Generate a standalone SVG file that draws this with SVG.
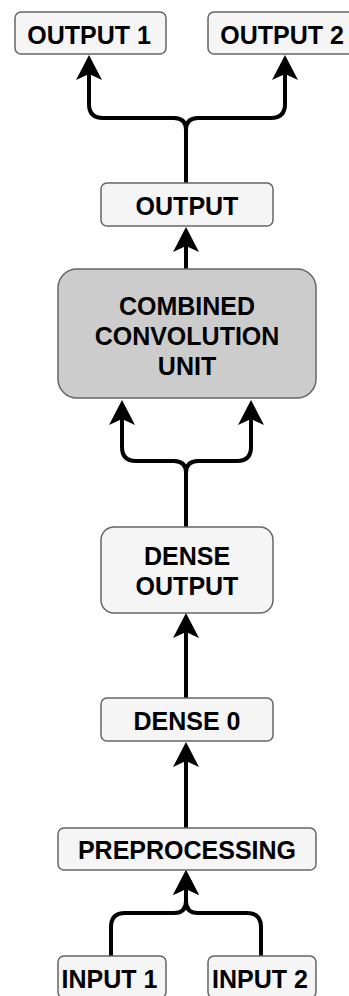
<svg xmlns="http://www.w3.org/2000/svg" width="349" height="996" viewBox="0 0 349 996">
<style>
.box{fill:#f5f5f5;stroke:#666666;stroke-width:1.5}
.dark{fill:#cccccc;stroke:#666666;stroke-width:1.5}
.lbl{font-family:"Liberation Sans",Arial,Helvetica,sans-serif;font-weight:bold;font-size:25px;fill:#000000;text-anchor:middle}
.edge{fill:none;stroke:#000000;stroke-width:4}
</style>
<defs>
<marker id="arr" markerUnits="userSpaceOnUse" viewBox="-16 -14 28 28" markerWidth="28" markerHeight="28" refX="0" refY="0" orient="auto">
<path d="M10,0 L-15,-13 L-9,0 L-15,13 Z" fill="#000000"/>
</marker>
</defs>
<rect width="349" height="996" fill="#ffffff"/>
<g id="connectors">
<path class="edge" marker-end="url(#arr)" d="M186,183 V130 Q186,118 174,118 H103 Q89,118 89,104 V65"/>
<path class="edge" marker-end="url(#arr)" d="M186,183 V130 Q186,118 198,118 H271 Q285,118 285,104 V65"/>
<path class="edge" marker-end="url(#arr)" d="M186,269 V237"/>
<path class="edge" marker-end="url(#arr)" d="M186,527 V473 Q186,461 174,461 H136 Q122,461 122,447 V410"/>
<path class="edge" marker-end="url(#arr)" d="M186,527 V473 Q186,461 198,461 H237 Q251,461 251,447 V410"/>
<path class="edge" marker-end="url(#arr)" d="M186,698 V623"/>
<path class="edge" marker-end="url(#arr)" d="M186,828 V752"/>
<path class="edge" marker-end="url(#arr)" d="M111,956 V927 Q111,913 125,913 H174 Q186,913 186,901 V880"/>
<path class="edge" marker-end="url(#arr)" d="M261,956 V927 Q261,913 247,913 H198 Q186,913 186,901 V880"/>
</g>
<g id="output1">
<rect class="box" x="15" y="12" width="151" height="42" rx="6"/>
<text class="lbl" x="89" y="43.5">OUTPUT 1</text>
</g>
<g id="output2">
<rect class="box" x="208" y="12" width="151" height="42" rx="6"/>
<text class="lbl" x="282" y="43.5">OUTPUT 2</text>
</g>
<g id="output">
<rect class="box" x="101" y="183" width="172" height="43" rx="6"/>
<text class="lbl" x="187" y="215">OUTPUT</text>
</g>
<g id="combined">
<rect class="dark" x="58" y="269" width="258" height="129" rx="19"/>
<text class="lbl" x="187" y="315">COMBINED</text>
<text class="lbl" x="187" y="345">CONVOLUTION</text>
<text class="lbl" x="187" y="375">UNIT</text>
</g>
<g id="dense-output">
<rect class="box" x="101" y="527" width="172" height="86" rx="13"/>
<text class="lbl" x="187" y="565">DENSE</text>
<text class="lbl" x="187" y="595">OUTPUT</text>
</g>
<g id="dense0">
<rect class="box" x="101" y="698" width="172" height="43" rx="6"/>
<text class="lbl" x="187" y="730">DENSE 0</text>
</g>
<g id="preprocessing">
<rect class="box" x="58" y="828" width="258" height="42" rx="6"/>
<text class="lbl" x="187" y="859">PREPROCESSING</text>
</g>
<g id="input1">
<rect class="box" x="58" y="956" width="108" height="42" rx="6"/>
<text class="lbl" x="109.5" y="988">INPUT 1</text>
</g>
<g id="input2">
<rect class="box" x="208" y="956" width="108" height="42" rx="6"/>
<text class="lbl" x="260" y="988">INPUT 2</text>
</g>
</svg>
